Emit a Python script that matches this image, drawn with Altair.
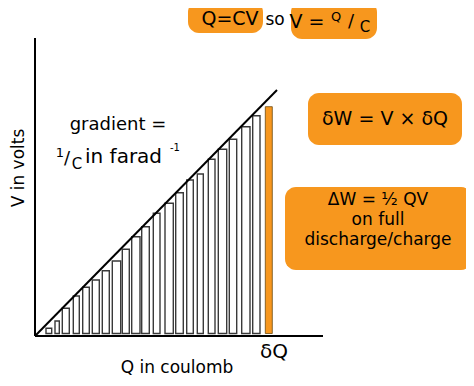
import altair as alt
import pandas as pd

ORANGE = "#F7971E"
FONT = "DejaVu Sans"

# Strip bars under the line (Q start, Q end, V top)
bar_q0 = [1.10, 2.00, 2.73, 3.83, 4.77, 5.73, 6.73, 7.73, 8.73, 9.67, 10.67,
          11.83, 13.00, 14.07, 15.17, 16.23, 17.33, 18.33, 19.43, 20.67, 21.77]
bar_q1 = [1.67, 2.43, 3.43, 4.43, 5.43, 6.43, 7.43, 8.57, 9.43, 10.50, 11.43,
          12.50, 13.83, 14.83, 15.83, 16.83, 18.00, 19.17, 20.17, 21.50, 22.50]
bar_v = [0.77, 1.50, 2.77, 4.00, 4.87, 5.60, 6.53, 7.50, 8.67, 9.93, 10.93,
         12.27, 13.27, 14.33, 15.60, 16.20, 17.67, 18.67, 19.67, 20.93, 22.03]
bar_base = 0.25

# highlighted strip dQ
dq_q0, dq_q1, dq_v = [23.03], [23.73], [22.93]

# V = Q/C line
line_q = [0.0, 24.2]
line_v = [0.0, 24.6]

# axes extents
axis_q_max = 28.8
axis_v_max = 29.8

# orange label boxes
box_q0 = [15.3, 25.6, 27.3, 25.0]
box_q1 = [22.8, 34.2, 42.7, 43.7]
box_v0 = [30.3, 29.7, 19.1, 6.6]
box_v1 = [33.5, 33.5, 24.3, 14.9]

# centred labels
lab_text = ["Q=CV", "so", "V =", "Q", "/", "C",
            "δW = V × δQ",
            "ΔW = ½ QV", "on full", "discharge/charge",
            "gradient =", "1", "/", "C", "-1",
            "Q in coulomb", "δQ"]
lab_q = [19.5, 24.0, 27.2, 30.1, 31.6, 33.0,
         35.0,
         34.3, 34.3, 34.3,
         8.3, 2.5, 3.2, 4.2, 14.0,
         14.2, 23.9]
lab_v = [31.7, 31.6, 31.4, 31.9, 31.4, 30.9,
         21.7,
         13.6, 11.6, 9.6,
         21.1, 18.3, 17.7, 17.2, 18.8,
         -3.2, -1.6]
lab_size = [19, 17, 19, 13, 18, 15,
            19,
            17, 17, 17,
            18, 13, 18, 15, 10,
            17, 20]

# left-aligned label
left_text, left_q, left_v, left_size = ["in farad"], [5.0], [17.9], [20]

# rotated y label
ylab_text, ylab_q, ylab_v, ylab_size = ["V in volts"], [-1.6], [16.8], [17]

xs = alt.Scale(domain=[-2.7, 43.1], nice=False, zero=False)
ys = alt.Scale(domain=[-4.2, 32.8], nice=False, zero=False)

boxes = pd.DataFrame({"q0": box_q0, "q1": box_q1, "v0": box_v0, "v1": box_v1})
bars = pd.DataFrame({"q0": bar_q0, "q1": bar_q1, "v": bar_v, "b": [bar_base] * len(bar_v)})
dq = pd.DataFrame({"q0": dq_q0, "q1": dq_q1, "v": dq_v, "b": [bar_base]})
axes = pd.DataFrame({"q0": [0, 0], "q1": [axis_q_max, 0], "v0": [0, 0], "v1": [0, axis_v_max]})
line = pd.DataFrame({"q": line_q, "v": line_v})
labs = pd.DataFrame({"t": lab_text, "q": lab_q, "v": lab_v, "s": lab_size})
lefts = pd.DataFrame({"t": left_text, "q": left_q, "v": left_v, "s": left_size})
ylabs = pd.DataFrame({"t": ylab_text, "q": ylab_q, "v": ylab_v, "s": ylab_size})

X = lambda f: alt.X(f, type="quantitative", scale=xs, axis=None)
Y = lambda f: alt.Y(f, type="quantitative", scale=ys, axis=None)

box_layer = alt.Chart(boxes).mark_rect(color=ORANGE, cornerRadius=11).encode(
    x=X("q0"), x2="q1", y=Y("v0"), y2="v1")

bar_layer = alt.Chart(bars).mark_rect(fill="white", stroke="#3a3a3a", strokeWidth=1.4).encode(
    x=X("q0"), x2="q1", y=Y("b"), y2="v")

dq_layer = alt.Chart(dq).mark_rect(fill=ORANGE, stroke="#6b4a10", strokeWidth=0.8).encode(
    x=X("q0"), x2="q1", y=Y("b"), y2="v")

axis_layer = alt.Chart(axes).mark_rule(color="black", strokeWidth=2).encode(
    x=X("q0"), x2="q1", y=Y("v0"), y2="v1")

line_layer = alt.Chart(line).mark_line(color="black", strokeWidth=2).encode(
    x=X("q"), y=Y("v"))

txt_layer = alt.Chart(labs).mark_text(font=FONT, color="black", align="center",
                                      baseline="middle").encode(
    x=X("q"), y=Y("v"), text="t:N", size=alt.Size("s:Q", scale=None, legend=None))

left_layer = alt.Chart(lefts).mark_text(font=FONT, color="black", align="left",
                                        baseline="middle").encode(
    x=X("q"), y=Y("v"), text="t:N", size=alt.Size("s:Q", scale=None, legend=None))

ylab_layer = alt.Chart(ylabs).mark_text(font=FONT, color="black", align="center",
                                        baseline="middle", angle=270).encode(
    x=X("q"), y=Y("v"), text="t:N", size=alt.Size("s:Q", scale=None, legend=None))

chart = alt.layer(box_layer, bar_layer, dq_layer, axis_layer, line_layer,
                  txt_layer, left_layer, ylab_layer).properties(
    width=458, height=370, padding=0,
    autosize=alt.AutoSizeParams(type="none"),
    background="white",
).configure_view(stroke=None)

chart.save("out.html", embed_options={"renderer": "svg", "actions": False})
